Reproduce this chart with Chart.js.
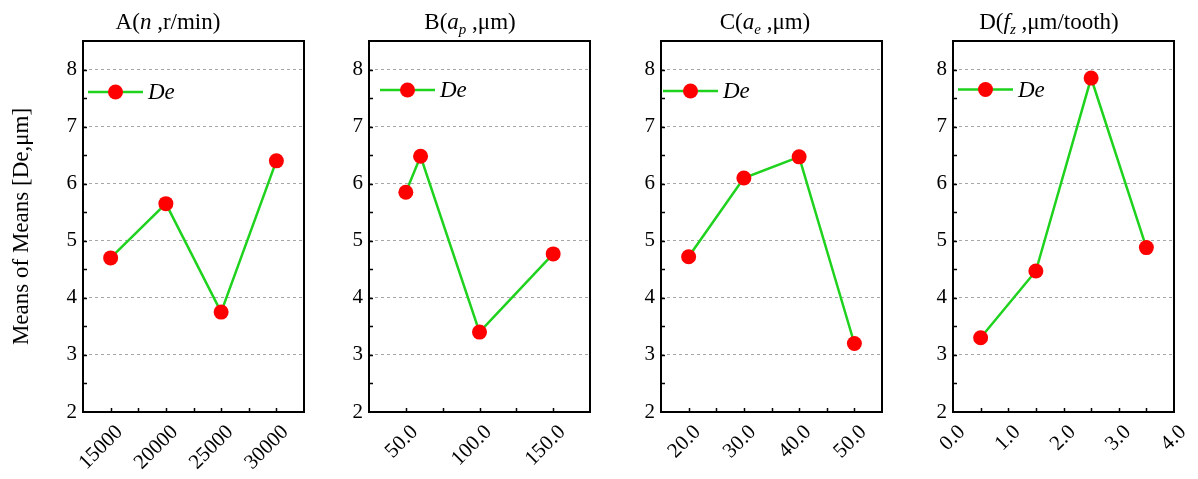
<!DOCTYPE html>
<html>
<head>
<meta charset="utf-8">
<script src="https://cdn.jsdelivr.net/npm/chart.js@4.4.1/dist/chart.umd.min.js"></script>
<style>
  html, body { margin: 0; padding: 0; background: #fff; }
  #wrap { position: relative; width: 1198px; height: 479px; overflow: hidden; }
  #wrap canvas { position: absolute; top: 0; }
</style>
</head>
<body>
<div id="wrap"></div>
<script>
// ===== Data =====
const yTicks = [2, 3, 4, 5, 6, 7, 8];

const speedLevels = [15000, 20000, 25000, 30000];
const speedMeans = [4.70, 5.65, 3.75, 6.40];
const speedTicks = [15000, 20000, 25000, 30000];

const depthLevels = [50, 60, 100, 150];
const depthMeans = [5.85, 6.48, 3.40, 4.77];
const depthTicks = [50, 100, 150];

const widthLevels = [20, 30, 40, 50];
const widthMeans = [4.72, 6.10, 6.47, 3.20];
const widthTicks = [20, 30, 40, 50];

const feedLevels = [0.5, 1.5, 2.5, 3.5];
const feedMeans = [3.30, 4.47, 7.85, 4.88];
const feedTicks = [0, 1, 2, 3, 4];

const seriesLabel = 'De';
const yTitle = 'Means of Means [De,\u03bcm]';

// ===== Panels =====
const SERIF = "'Liberation Serif', 'Times New Roman', serif";
const LINE_GREEN = '#1ed21e';
const DOT_RED = '#ff0000';

const panels = [
  { xs: speedLevels, ys: speedMeans, ticks: speedTicks, min: 12500, max: 32500, dec: 0,
    title: [['A(', 0], ['n', 1], [' ,r/min)', 0]],
    left: 83, yw: 83, titleX: 85, legX: 5, legY: 92, showYTitle: true },
  { xs: depthLevels, ys: depthMeans, ticks: depthTicks, min: 25, max: 175, dec: 1,
    title: [['B(', 0], ['a', 1], ['p', 2], [' ,\u03bcm)', 0]],
    left: 369, yw: 45, titleX: 101, legX: 11, legY: 90 },
  { xs: widthLevels, ys: widthMeans, ticks: widthTicks, min: 15, max: 55, dec: 1,
    title: [['C(', 0], ['a', 1], ['e', 2], [' ,\u03bcm)', 0]],
    left: 661, yw: 45, titleX: 104, legX: 2, legY: 91 },
  { xs: feedLevels, ys: feedMeans, ticks: feedTicks, min: 0, max: 4, dec: 1,
    title: [['D(', 0], ['f', 1], ['z', 2], [' ,\u03bcm/tooth)', 0]],
    left: 953, yw: 45, titleX: 96, legX: 5, legY: 89.5 }
];

const AREA_W = 221;
const PAD_RIGHT = 20;
const TOP = 41;
const X_AXIS_H = 67;
const H = 479;

function pieceFont(kind) {
  if (kind === 2) return 'italic 15px ' + SERIF;
  if (kind === 1) return 'italic 23px ' + SERIF;
  return '23px ' + SERIF;
}

// frame, inward ticks, legend and titles
function decorPlugin(p) {
  return {
    id: 'panelDecor',
    afterDraw(chart) {
      const ctx = chart.ctx;
      const a = chart.chartArea;
      const xs = chart.scales.x, ys = chart.scales.y;
      ctx.save();

      // inward ticks, y axis every 0.5
      ctx.strokeStyle = '#000';
      ctx.lineWidth = 1.5;
      ctx.beginPath();
      for (let v = 2.5; v < 8.5; v += 0.5) {
        const y = Math.round(ys.getPixelForValue(v)) + 0.5;
        ctx.moveTo(a.left, y);
        ctx.lineTo(a.left + 4, y);
      }
      // x axis: major ticks plus midpoints
      const xt = [];
      p.ticks.forEach((t, i) => {
        xt.push(t);
        if (i < p.ticks.length - 1) xt.push((t + p.ticks[i + 1]) / 2);
      });
      xt.forEach(v => {
        if (v <= p.min || v >= p.max) return;
        const x = Math.round(xs.getPixelForValue(v)) + 0.5;
        ctx.moveTo(x, a.bottom);
        ctx.lineTo(x, a.bottom - 4);
      });
      ctx.stroke();

      // frame
      ctx.lineWidth = 2;
      ctx.strokeRect(a.left, a.top, a.right - a.left, a.bottom - a.top);

      // legend
      const lx = a.left + p.legX;
      ctx.strokeStyle = LINE_GREEN;
      ctx.lineWidth = 2.5;
      ctx.beginPath();
      ctx.moveTo(lx, p.legY);
      ctx.lineTo(lx + 55, p.legY);
      ctx.stroke();
      ctx.fillStyle = DOT_RED;
      ctx.beginPath();
      ctx.arc(lx + 27.5, p.legY, 7.5, 0, Math.PI * 2);
      ctx.fill();
      ctx.fillStyle = '#000';
      ctx.font = 'italic 23px ' + SERIF;
      ctx.textAlign = 'left';
      ctx.textBaseline = 'alphabetic';
      ctx.fillText(seriesLabel, lx + 60, p.legY + 7);

      // panel title with italic symbol and subscript
      let total = 0;
      p.title.forEach(([t, k]) => { ctx.font = pieceFont(k); total += ctx.measureText(t).width; });
      let tx = a.left + p.titleX - total / 2;
      p.title.forEach(([t, k]) => {
        ctx.font = pieceFont(k);
        ctx.fillText(t, tx, k === 2 ? 34 : 29);
        tx += ctx.measureText(t).width;
      });

      // y axis title, first panel only
      if (p.showYTitle) {
        ctx.translate(22, (a.top + a.bottom) / 2);
        ctx.rotate(-Math.PI / 2);
        ctx.font = '23px ' + SERIF;
        ctx.textAlign = 'center';
        ctx.textBaseline = 'middle';
        ctx.fillText(yTitle, 0, 0);
      }
      ctx.restore();
    }
  };
}

const wrap = document.getElementById('wrap');

panels.forEach(p => {
  const canvas = document.createElement('canvas');
  canvas.width = p.yw + AREA_W + PAD_RIGHT;
  canvas.height = H;
  canvas.style.left = (p.left - p.yw) + 'px';
  wrap.appendChild(canvas);

  new Chart(canvas, {
    type: 'line',
    data: {
      datasets: [{
        label: seriesLabel,
        data: p.xs.map((x, i) => ({ x: x, y: p.ys[i] })),
        borderColor: LINE_GREEN,
        borderWidth: 2.5,
        tension: 0,
        pointRadius: 7.5,
        pointHoverRadius: 7.5,
        pointBackgroundColor: DOT_RED,
        pointBorderColor: DOT_RED,
        pointBorderWidth: 0
      }]
    },
    options: {
      responsive: false,
      animation: false,
      devicePixelRatio: 1,
      events: [],
      layout: { padding: { left: 0, top: TOP, right: PAD_RIGHT, bottom: 0 } },
      plugins: {
        legend: { display: false },
        tooltip: { enabled: false },
        title: { display: false }
      },
      scales: {
        x: {
          type: 'linear',
          min: p.min,
          max: p.max,
          afterBuildTicks: s => { s.ticks = p.ticks.map(v => ({ value: v })); },
          afterFit: s => { s.height = X_AXIS_H; s.paddingLeft = 0; s.paddingRight = 0; },
          grid: { display: false, drawTicks: false },
          border: { display: false },
          ticks: {
            autoSkip: false,
            minRotation: 45,
            maxRotation: 45,
            padding: 8,
            labelOffset: 9,
            color: '#000',
            font: { family: SERIF, size: 21 },
            callback: v => Number(v).toFixed(p.dec)
          }
        },
        y: {
          min: 2,
          max: 8.5,
          afterBuildTicks: s => { s.ticks = yTicks.map(v => ({ value: v })); },
          afterFit: s => { s.width = p.yw; s.paddingTop = 0; s.paddingBottom = 0; },
          grid: { color: '#a6a6a6', lineWidth: 1, drawTicks: false },
          border: { display: false, dash: [3, 3] },
          ticks: {
            padding: 6,
            color: '#000',
            font: { family: SERIF, size: 21 }
          }
        }
      }
    },
    plugins: [decorPlugin(p)]
  });
});
</script>
</body>
</html>
